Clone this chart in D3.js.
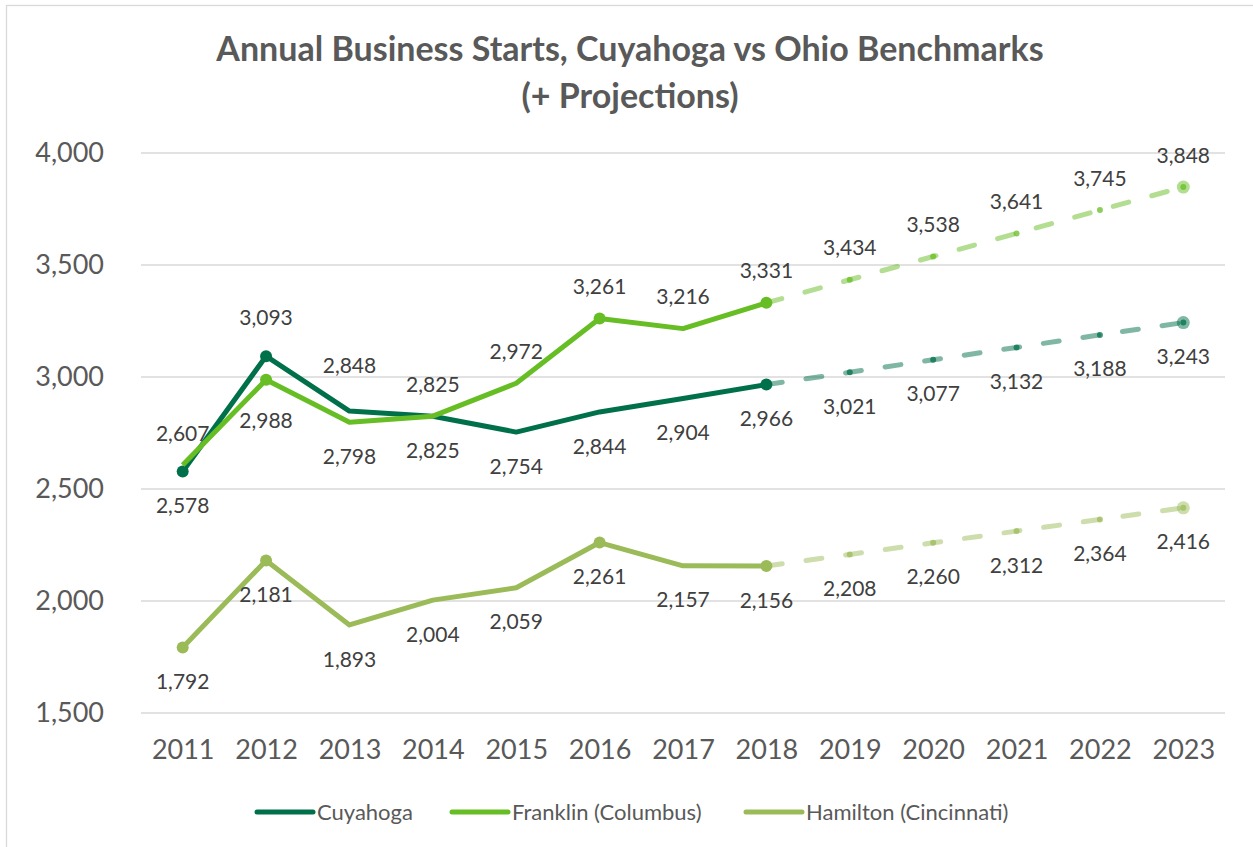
<!DOCTYPE html>
<html>
<head>
<meta charset="utf-8">
<script src="https://cdn.jsdelivr.net/npm/d3@7"></script>
<style>
  body { margin: 0; background: #fff; }
  svg { display: block; font-family: Lato, "Noto Sans", sans-serif; }
</style>
</head>
<body>
<svg></svg>
<script>
const width = 1253;
const height = 847;

// data
const years = ["2011", "2012", "2013", "2014", "2015", "2016", "2017", "2018",
  "2019", "2020", "2021", "2022", "2023"];
const actualYears = years.slice(0, 8);
const projYears = years.slice(7);

const cuyahoga = [2578, 3093, 2848, 2825, 2754, 2844, 2904, 2966];
const cuyahogaProj = [2966, 3021, 3077, 3132, 3188, 3243];
const franklin = [2607, 2988, 2798, 2825, 2972, 3261, 3216, 3331];
const franklinProj = [3331, 3434, 3538, 3641, 3745, 3848];
const hamilton = [1792, 2181, 1893, 2004, 2059, 2261, 2157, 2156];
const hamiltonProj = [2156, 2208, 2260, 2312, 2364, 2416];

const yTicks = [1500, 2000, 2500, 3000, 3500, 4000];

// label side per point: a = above, b = below
const cuyahogaSide = ["b", "a", "a", "a", "b", "b", "b", "b", "b", "b", "b", "b", "b"];
const franklinSide = ["a", "b", "b", "b", "a", "a", "a", "a", "a", "a", "a", "a", "a"];
const hamiltonSide = ["b", "b", "b", "b", "b", "b", "b", "b", "b", "b", "b", "b", "b"];

const series = [
  { name: "Cuyahoga", color: "#00704A", actual: cuyahoga, proj: cuyahogaProj, side: cuyahogaSide, marks: [0, 1, 7] },
  { name: "Franklin (Columbus)", color: "#67BE24", actual: franklin, proj: franklinProj, side: franklinSide, marks: [1, 5, 7] },
  { name: "Hamilton (Cincinnati)", color: "#9BBB59", actual: hamilton, proj: hamiltonProj, side: hamiltonSide, marks: [0, 1, 5, 7] }
];

// a few labels were dragged by hand in the original
const labelNudge = { "Cuyahoga-1": -7, "Cuyahoga-2": -14, "Franklin (Columbus)-1": 7 };

const svg = d3.select("svg")
  .attr("width", width)
  .attr("height", height);

svg.append("rect")
  .attr("x", 6.5).attr("y", 5.5)
  .attr("width", 1300).attr("height", 900)
  .attr("fill", "#fff")
  .attr("stroke", "#D9D9D9")
  .attr("stroke-width", 1.3);

// title
const title = svg.append("text")
  .attr("text-anchor", "middle")
  .attr("font-weight", 700)
  .attr("font-size", 34)
  .attr("fill", "#595959");
title.append("tspan").attr("x", 630).attr("y", 61).text("Annual Business Starts, Cuyahoga vs Ohio Benchmarks");
title.append("tspan").attr("x", 630).attr("y", 108).text("(+ Projections)");

const x = d3.scalePoint()
  .domain(years)
  .range([141, 1225])
  .padding(0.5);

const y = d3.scaleLinear()
  .domain([1500, 4000])
  .range([713, 153]);

// gridlines
svg.append("g")
  .selectAll("line")
  .data(yTicks)
  .join("line")
  .attr("x1", 141).attr("x2", 1225)
  .attr("y1", d => y(d)).attr("y2", d => y(d))
  .attr("stroke", "#D9D9D9")
  .attr("stroke-width", 1.5);

// y axis labels
const yAxis = svg.append("g")
  .attr("transform", "translate(104,0)")
  .call(d3.axisLeft(y).tickValues(yTicks).tickFormat(d3.format(",")).tickSize(0).tickPadding(0));
yAxis.select(".domain").remove();
yAxis.selectAll("text")
  .attr("font-size", 27)
  .attr("font-family", "Lato, sans-serif")
  .attr("fill", "#595959");

// x axis labels
const xAxis = svg.append("g")
  .attr("transform", "translate(0,740)")
  .call(d3.axisBottom(x).tickSize(0).tickPadding(0));
xAxis.select(".domain").remove();
xAxis.selectAll("text")
  .attr("font-size", 27)
  .attr("font-family", "Lato, sans-serif")
  .attr("fill", "#595959");

const line = d3.line()
  .x(d => x(d[0]))
  .y(d => y(d[1]));

const fmt = d3.format(",");

// projection dashes
series.forEach(function(s) {
  const pts = projYears.map((yr, i) => [yr, s.proj[i]]);
  svg.append("path")
    .datum(pts)
    .attr("d", line)
    .attr("fill", "none")
    .attr("stroke", s.color)
    .attr("stroke-opacity", 0.5)
    .attr("stroke-width", 5)
    .attr("stroke-linecap", "round")
    .attr("stroke-dasharray", "16 24");

  svg.append("g")
    .selectAll("circle")
    .data(pts.slice(1, -1))
    .join("circle")
    .attr("cx", d => x(d[0]))
    .attr("cy", d => y(d[1]))
    .attr("r", 3)
    .attr("fill", s.color)
    .attr("fill-opacity", 0.75);

  const last = pts[pts.length - 1];
  svg.append("circle")
    .attr("cx", x(last[0])).attr("cy", y(last[1]))
    .attr("r", 6.5)
    .attr("fill", s.color)
    .attr("fill-opacity", 0.5);
  svg.append("circle")
    .attr("cx", x(last[0])).attr("cy", y(last[1]))
    .attr("r", 3)
    .attr("fill", s.color)
    .attr("fill-opacity", 0.75);
});

// actual lines
series.forEach(function(s) {
  const pts = actualYears.map((yr, i) => [yr, s.actual[i]]);
  svg.append("path")
    .datum(pts)
    .attr("d", line)
    .attr("fill", "none")
    .attr("stroke", s.color)
    .attr("stroke-width", 5)
    .attr("stroke-linejoin", "round");

  svg.append("g")
    .selectAll("circle")
    .data(s.marks.map(i => pts[i]))
    .join("circle")
    .attr("cx", d => x(d[0]))
    .attr("cy", d => y(d[1]))
    .attr("r", 6)
    .attr("fill", s.color);
});

// data labels
series.forEach(function(s) {
  const all = s.actual.concat(s.proj.slice(1));
  svg.append("g")
    .selectAll("text")
    .data(all)
    .join("text")
    .attr("x", (d, i) => x(years[i]))
    .attr("y", (d, i) => y(d) + (s.side[i] === "a" ? -32 : 34) + (labelNudge[s.name + "-" + i] || 0))
    .attr("dy", "0.36em")
    .attr("text-anchor", "middle")
    .attr("font-size", 21)
    .attr("fill", "#404040")
    .text(d => fmt(d));
});

// legend
const legendX = [257, 452, 746];
const legend = svg.append("g");
series.forEach(function(s, i) {
  legend.append("line")
    .attr("x1", legendX[i]).attr("x2", legendX[i] + 56)
    .attr("y1", 812).attr("y2", 812)
    .attr("stroke", s.color)
    .attr("stroke-width", 5)
    .attr("stroke-linecap", "round");
  legend.append("text")
    .attr("x", legendX[i] + 60)
    .attr("y", 820)
    .attr("font-size", 22)
    .attr("fill", "#595959")
    .text(s.name);
});
</script>
</body>
</html>
